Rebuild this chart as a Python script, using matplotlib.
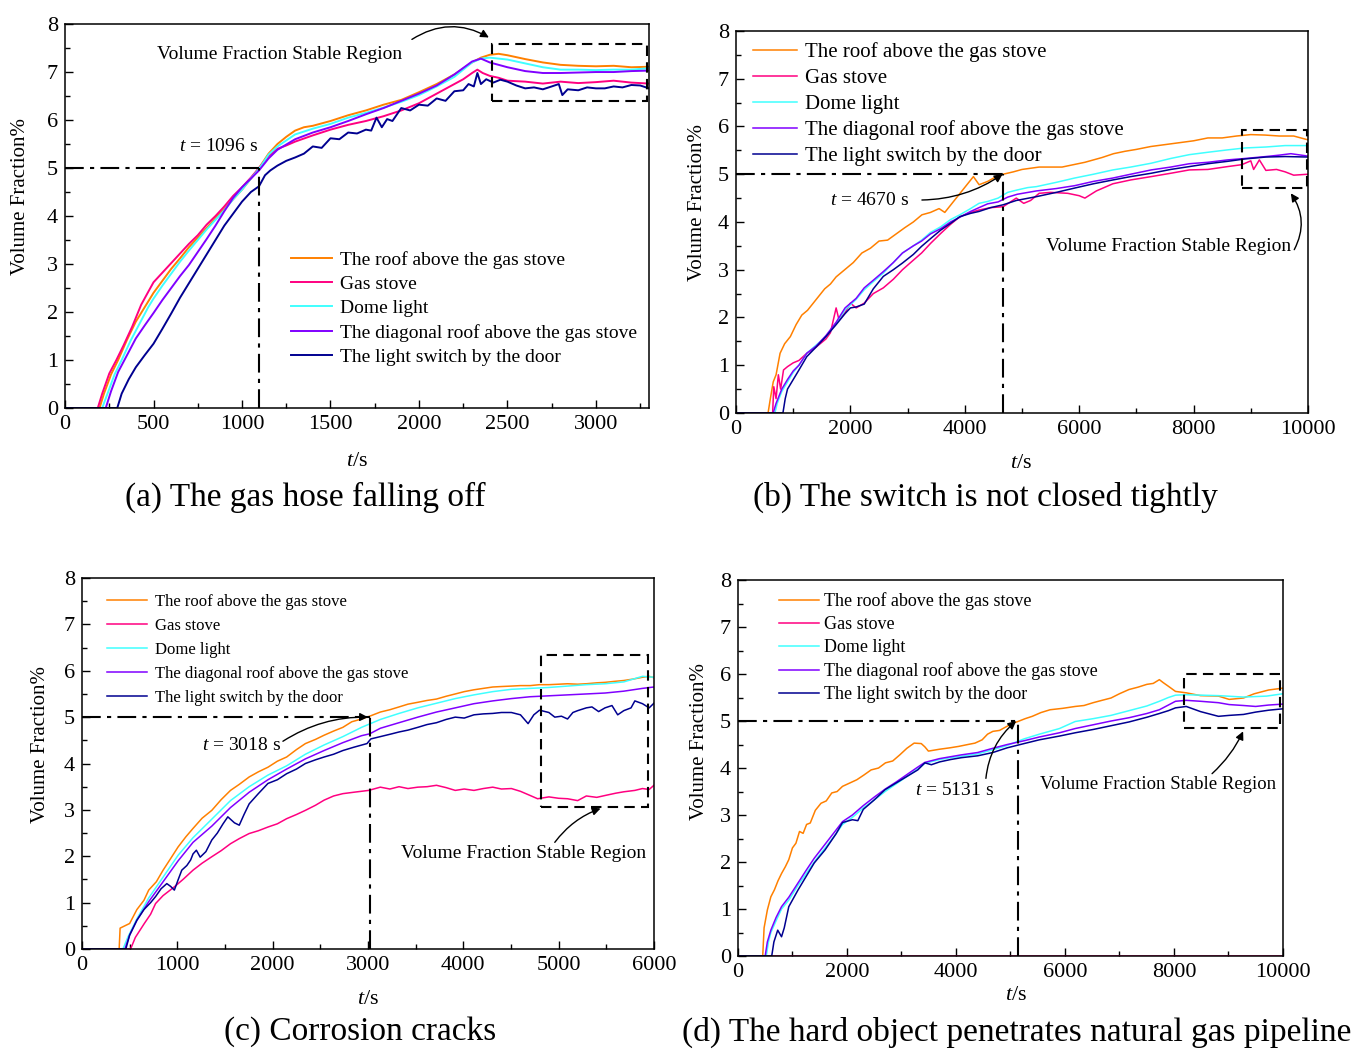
import matplotlib
matplotlib.use("Agg")
import matplotlib.pyplot as plt
from matplotlib.patches import Rectangle
from matplotlib.ticker import MultipleLocator

plt.rcParams["font.family"] = "Liberation Serif"
plt.rcParams["mathtext.fontset"] = "custom"
plt.rcParams["mathtext.rm"] = "Liberation Serif"
plt.rcParams["mathtext.it"] = "Liberation Serif:italic"

# ------------------------------------------------------------------------------
# Series names and colours
labels = ["The roof above the gas stove", "Gas stove", "Dome light",
          "The diagonal roof above the gas stove", "The light switch by the door"]
colors = ["#FF8000", "#FF0080", "#40FFFF", "#8000FF", "#000090"]

# ------------------------------------------------------------------------------
# (a) The gas hose falling off
a_roof_t = [0, 195, 220, 260, 300, 350, 400, 450, 500, 550, 600, 650, 700, 750, 800, 850, 900, 950, 1000,
            1050, 1096, 1150, 1200, 1250, 1300, 1350, 1400, 1500, 1600, 1700, 1800, 1900, 2000, 2100, 2200,
            2300, 2350, 2400, 2450, 2500, 2600, 2700, 2800, 2900, 3000, 3100, 3200, 3300]
a_roof_v = [0, 0, 0.3, 0.7, 1.0, 1.42, 1.8, 2.1, 2.4, 2.65, 2.9, 3.12, 3.35, 3.55, 3.75, 3.95, 4.15, 4.35, 4.55,
            4.78, 5.0, 5.3, 5.5, 5.65, 5.78, 5.85, 5.88, 5.98, 6.1, 6.2, 6.32, 6.42, 6.58, 6.75, 6.95,
            7.2, 7.3, 7.36, 7.38, 7.35, 7.27, 7.2, 7.15, 7.13, 7.12, 7.13, 7.1, 7.11]
a_stove_t = [0, 185, 210, 250, 290, 330, 380, 430, 470, 500, 550, 600, 650, 700, 750, 800, 850, 900, 950, 1000,
             1050, 1096, 1150, 1200, 1250, 1300, 1400, 1500, 1600, 1700, 1800, 1900, 2000, 2100, 2200, 2250,
             2300, 2330, 2360, 2400, 2450, 2500, 2600, 2700, 2800, 2900, 3000, 3100, 3200, 3300]
a_stove_v = [0, 0, 0.3, 0.72, 1.0, 1.3, 1.7, 2.15, 2.42, 2.62, 2.82, 3.02, 3.22, 3.42, 3.6, 3.82, 4.0, 4.2, 4.42, 4.6,
             4.8, 5.0, 5.25, 5.4, 5.47, 5.55, 5.68, 5.8, 5.9, 5.98, 6.08, 6.2, 6.35, 6.55, 6.75, 6.85,
             6.98, 7.05, 6.98, 6.92, 6.88, 6.82, 6.8, 6.76, 6.8, 6.77, 6.79, 6.82, 6.78, 6.76]
a_dome_t = [0, 210, 240, 280, 320, 370, 420, 470, 500, 550, 600, 650, 700, 750, 800, 850, 900, 950, 1000, 1050,
            1096, 1150, 1200, 1300, 1400, 1500, 1600, 1700, 1800, 1900, 2000, 2100, 2200, 2300, 2350, 2400,
            2500, 2600, 2700, 2800, 2900, 3000, 3100, 3200, 3300]
a_dome_v = [0, 0, 0.3, 0.7, 1.0, 1.4, 1.75, 2.1, 2.28, 2.55, 2.8, 3.05, 3.28, 3.5, 3.72, 3.92, 4.12, 4.35, 4.55, 4.78,
            4.98, 5.28, 5.45, 5.7, 5.82, 5.92, 6.05, 6.15, 6.26, 6.38, 6.52, 6.7, 6.9, 7.2, 7.28, 7.3,
            7.26, 7.18, 7.1, 7.05, 7.05, 7.04, 7.05, 7.05, 7.08]
a_diag_t = [0, 230, 260, 300, 350, 400, 450, 500, 550, 600, 650, 700, 750, 800, 850, 900, 950, 1000, 1050, 1096,
            1150, 1200, 1300, 1400, 1500, 1600, 1700, 1800, 1900, 2000, 2100, 2200, 2300, 2350, 2400, 2500,
            2600, 2700, 2800, 2900, 3000, 3100, 3200, 3300]
a_diag_v = [0, 0, 0.35, 0.75, 1.1, 1.45, 1.72, 1.98, 2.25, 2.5, 2.75, 2.98, 3.25, 3.52, 3.8, 4.1, 4.38, 4.6, 4.78, 4.95,
            5.2, 5.38, 5.6, 5.74, 5.85, 5.98, 6.12, 6.25, 6.4, 6.55, 6.72, 6.95, 7.22, 7.28, 7.2, 7.1,
            7.02, 6.98, 6.98, 6.99, 7.0, 7.0, 7.02, 7.03]
a_switch_t = [0, 295, 320, 360, 400, 450, 500, 550, 600, 650, 700, 750, 800, 850, 900, 950, 1000, 1050, 1096,
              1130, 1160, 1200, 1250, 1300, 1350, 1400, 1450, 1500, 1550, 1600, 1650, 1700, 1730, 1760, 1790,
              1820, 1850, 1900, 1950, 2000, 2050, 2100, 2150, 2200, 2250, 2280, 2310, 2330, 2350, 2380, 2420,
              2460, 2500, 2550, 2600, 2650, 2700, 2750, 2790, 2810, 2840, 2900, 2950, 3000, 3050, 3100, 3150,
              3200, 3250, 3300]
a_switch_v = [0, 0, 0.3, 0.6, 0.85, 1.1, 1.34, 1.65, 1.97, 2.3, 2.6, 2.9, 3.2, 3.5, 3.8, 4.05, 4.3, 4.5, 4.62,
              4.85, 4.95, 5.05, 5.15, 5.22, 5.3, 5.45, 5.42, 5.62, 5.6, 5.74, 5.72, 5.8, 5.78, 6.05, 5.85,
              6.02, 5.98, 6.25, 6.2, 6.32, 6.3, 6.45, 6.4, 6.6, 6.62, 6.75, 6.7, 6.98, 6.75, 6.85, 6.78,
              6.84, 6.8, 6.72, 6.66, 6.68, 6.64, 6.7, 6.75, 6.52, 6.64, 6.62, 6.68, 6.66, 6.66, 6.7, 6.68,
              6.73, 6.72, 6.66]

# ------------------------------------------------------------------------------
# (b) The switch is not closed tightly
b_roof_t = [0, 560, 600, 650, 700, 770, 850, 950, 1050, 1150, 1250, 1350, 1450, 1550, 1650, 1750, 1900, 2050,
            2200, 2350, 2500, 2650, 2800, 2950, 3100, 3250, 3400, 3550, 3650, 4150, 4250, 4400, 4550, 4670,
            4850, 5000, 5300, 5700, 5900, 6100, 6250, 6400, 6600, 6800, 7000, 7250, 7500, 7750, 8000, 8250,
            8500, 8750, 9000, 9250, 9500, 9750, 10000]
b_roof_v = [0, 0, 0.3, 0.65, 0.8, 1.25, 1.45, 1.6, 1.85, 2.05, 2.15, 2.3, 2.45, 2.6, 2.7, 2.85, 3.0, 3.15,
            3.35, 3.45, 3.6, 3.62, 3.75, 3.88, 4.0, 4.15, 4.2, 4.28, 4.2, 4.95, 4.78, 4.85, 4.95, 5.0,
            5.05, 5.1, 5.15, 5.15, 5.2, 5.25, 5.3, 5.35, 5.43, 5.48, 5.52, 5.58, 5.62, 5.66, 5.7, 5.76,
            5.76, 5.8, 5.83, 5.82, 5.8, 5.8, 5.72]
b_stove_t = [0, 640, 660, 700, 740, 780, 830, 900, 1000, 1100, 1237, 1400, 1572, 1650, 1750, 1800, 1906, 2000,
             2100, 2241, 2400, 2575, 2750, 2910, 3100, 3244, 3400, 3579, 3750, 3913, 4100, 4248, 4450, 4670,
             4900, 5030, 5150, 5300, 5500, 5800, 6000, 6100, 6300, 6589, 6900, 7258, 7600, 7926, 8250, 8595,
             8843, 9000, 9050, 9150, 9264, 9450, 9600, 9750, 10000]
b_stove_v = [0, 0, 0.55, 0.3, 0.8, 0.5, 0.9, 0.97, 1.05, 1.1, 1.25, 1.38, 1.55, 1.68, 2.2, 1.95, 2.1, 2.3,
             2.2, 2.3, 2.5, 2.62, 2.8, 3.0, 3.2, 3.35, 3.55, 3.76, 3.95, 4.11, 4.2, 4.25, 4.3, 4.32,
             4.5, 4.39, 4.45, 4.6, 4.62, 4.6, 4.55, 4.5, 4.65, 4.8, 4.88, 4.95, 5.02, 5.09, 5.1, 5.16,
             5.2, 5.28, 5.1, 5.3, 5.08, 5.1, 5.05, 4.98, 5.0]
b_dome_t = [0, 680, 720, 800, 900, 1000, 1100, 1237, 1400, 1572, 1750, 1906, 2100, 2241, 2400, 2575, 2750, 2910,
            3100, 3244, 3400, 3579, 3750, 3913, 4100, 4248, 4400, 4582, 4750, 4916, 5100, 5251, 5600, 5920,
            6250, 6589, 6900, 7258, 7600, 7926, 8250, 8595, 8900, 9264, 9600, 10000]
b_dome_v = [0, 0, 0.2, 0.45, 0.65, 0.85, 1.0, 1.25, 1.42, 1.6, 1.88, 2.16, 2.38, 2.58, 2.75, 2.93, 3.15, 3.35,
            3.5, 3.62, 3.78, 3.9, 4.05, 4.15, 4.28, 4.39, 4.43, 4.5, 4.62, 4.67, 4.72, 4.74, 4.83, 4.92,
            5.0, 5.09, 5.15, 5.23, 5.33, 5.41, 5.46, 5.51, 5.55, 5.57, 5.6, 5.6]
b_diag_t = [0, 650, 700, 800, 900, 1000, 1100, 1237, 1400, 1572, 1750, 1906, 2100, 2241, 2400, 2575, 2750, 2910,
            3100, 3244, 3400, 3579, 3750, 3913, 4100, 4248, 4400, 4582, 4750, 4916, 5251, 5600, 5920, 6250,
            6589, 6900, 7258, 7600, 7926, 8250, 8595, 8900, 9264, 9500, 9700, 10000]
b_diag_v = [0, 0, 0.2, 0.5, 0.7, 0.88, 1.0, 1.25, 1.4, 1.62, 1.9, 2.2, 2.4, 2.62, 2.78, 2.96, 3.15, 3.35,
            3.5, 3.6, 3.75, 3.86, 4.0, 4.1, 4.22, 4.3, 4.38, 4.42, 4.52, 4.58, 4.65, 4.7, 4.76, 4.85,
            4.92, 5.0, 5.09, 5.15, 5.22, 5.25, 5.3, 5.33, 5.37, 5.4, 5.43, 5.38]
b_switch_t = [0, 820, 860, 900, 1000, 1100, 1237, 1400, 1572, 1750, 1906, 2000, 2100, 2241, 2400, 2575, 2750,
              2910, 3100, 3244, 3400, 3579, 3750, 3913, 4100, 4248, 4450, 4670, 4900, 5251, 5600, 5920, 6250,
              6589, 6900, 7258, 7600, 7926, 8250, 8595, 8900, 9264, 9600, 10000]
b_switch_v = [0, 0, 0.3, 0.5, 0.7, 0.9, 1.18, 1.38, 1.6, 1.85, 2.08, 2.2, 2.22, 2.28, 2.6, 2.86, 3.0,
              3.14, 3.32, 3.49, 3.65, 3.83, 3.97, 4.11, 4.18, 4.22, 4.3, 4.36, 4.45, 4.53, 4.62, 4.71, 4.8,
              4.88, 4.95, 5.02, 5.1, 5.16, 5.22, 5.27, 5.32, 5.36, 5.37, 5.36]

# ------------------------------------------------------------------------------
# (c) Corrosion cracks
c_roof_t = [0, 390, 400, 450, 500, 576, 650, 700, 780, 851, 930, 1008, 1090, 1165, 1260, 1362, 1460, 1558, 1650,
            1754, 1850, 1951, 2050, 2147, 2250, 2344, 2450, 2540, 2640, 2737, 2830, 2933, 3018, 3130, 3230,
            3326, 3420, 3523, 3620, 3719, 3820, 3916, 4010, 4112, 4210, 4309, 4400, 4505, 4600, 4702, 4800,
            4898, 5000, 5094, 5200, 5291, 5400, 5487, 5580, 5684, 5780, 5880, 5950, 6000]
c_roof_v = [0, 0, 0.45, 0.5, 0.55, 0.85, 1.05, 1.27, 1.45, 1.7, 1.95, 2.2, 2.42, 2.6, 2.82, 2.99, 3.22, 3.42, 3.55,
            3.71, 3.82, 3.92, 4.05, 4.14, 4.3, 4.43, 4.52, 4.61, 4.7, 4.78, 4.9, 4.96, 5.02, 5.11, 5.16,
            5.22, 5.28, 5.32, 5.36, 5.39, 5.45, 5.5, 5.55, 5.59, 5.62, 5.65, 5.66, 5.67, 5.68, 5.68, 5.7,
            5.7, 5.71, 5.72, 5.71, 5.72, 5.74, 5.75, 5.77, 5.79, 5.82, 5.86, 5.88, 5.85]
c_stove_t = [0, 510, 560, 654, 720, 772, 850, 969, 1060, 1165, 1260, 1362, 1460, 1558, 1650, 1754, 1850, 1951,
             2050, 2147, 2250, 2344, 2450, 2540, 2640, 2737, 2850, 3008, 3130, 3230, 3326, 3420, 3523, 3620,
             3719, 3820, 3916, 4010, 4112, 4210, 4309, 4400, 4505, 4600, 4702, 4780, 4898, 5000, 5094, 5200,
             5291, 5400, 5487, 5600, 5684, 5800, 5880, 5950, 6000]
c_stove_v = [0, 0, 0.25, 0.55, 0.75, 0.98, 1.15, 1.34, 1.5, 1.7, 1.85, 1.99, 2.12, 2.27, 2.38, 2.49, 2.55, 2.63,
             2.7, 2.81, 2.9, 2.99, 3.1, 3.21, 3.3, 3.35, 3.38, 3.42, 3.49, 3.45, 3.5, 3.46, 3.49, 3.5,
             3.53, 3.48, 3.42, 3.45, 3.42, 3.46, 3.49, 3.45, 3.46, 3.4, 3.31, 3.24, 3.28, 3.25, 3.24, 3.2,
             3.3, 3.27, 3.31, 3.36, 3.39, 3.42, 3.46, 3.44, 3.53]
c_dome_t = [0, 430, 480, 576, 700, 851, 1008, 1165, 1362, 1558, 1754, 1951, 2147, 2344, 2540, 2737, 2933, 3130,
            3326, 3523, 3719, 3916, 4112, 4309, 4505, 4702, 4898, 5094, 5291, 5487, 5684, 5880, 6000]
c_dome_v = [0, 0, 0.25, 0.65, 1.1, 1.55, 2.02, 2.4, 2.8, 3.2, 3.5, 3.75, 3.95, 4.2, 4.4, 4.58, 4.78, 4.95,
            5.08, 5.2, 5.3, 5.4, 5.48, 5.55, 5.6, 5.62, 5.64, 5.67, 5.7, 5.72, 5.76, 5.88, 5.86]
c_diag_t = [0, 450, 500, 576, 700, 851, 1008, 1165, 1362, 1558, 1754, 1951, 2147, 2344, 2540, 2737, 2933, 3018,
            3130, 3326, 3523, 3719, 3916, 4112, 4309, 4505, 4702, 4898, 5094, 5291, 5487, 5684, 5880, 6000]
c_diag_v = [0, 0, 0.3, 0.62, 1.02, 1.45, 1.9, 2.3, 2.65, 3.05, 3.38, 3.65, 3.88, 4.1, 4.28, 4.45, 4.6, 4.64,
            4.76, 4.88, 5.0, 5.11, 5.2, 5.29, 5.35, 5.4, 5.44, 5.46, 5.48, 5.5, 5.52, 5.56, 5.62, 5.65]
c_switch_t = [0, 460, 500, 576, 650, 720, 772, 830, 890, 930, 969, 1010, 1047, 1100, 1140, 1165, 1200, 1240,
              1300, 1362, 1420, 1480, 1530, 1600, 1650, 1700, 1754, 1850, 1951, 2050, 2147, 2250, 2344, 2450,
              2540, 2640, 2737, 2850, 2990, 3030, 3130, 3250, 3326, 3420, 3523, 3620, 3719, 3820, 3916, 4010,
              4112, 4210, 4309, 4400, 4505, 4600, 4680, 4740, 4800, 4898, 4960, 5030, 5094, 5150, 5200, 5291,
              5350, 5420, 5487, 5560, 5620, 5684, 5760, 5800, 5880, 5950, 6000]
c_switch_v = [0, 0, 0.3, 0.62, 0.85, 1.0, 1.13, 1.3, 1.41, 1.35, 1.27, 1.5, 1.7, 1.8, 1.92, 2.05, 2.13, 1.98,
              2.1, 2.35, 2.5, 2.7, 2.85, 2.72, 2.67, 2.9, 3.13, 3.35, 3.57, 3.65, 3.78, 3.88, 4.0, 4.08,
              4.14, 4.2, 4.28, 4.35, 4.43, 4.53, 4.58, 4.64, 4.68, 4.72, 4.78, 4.84, 4.88, 4.95, 5.0, 4.98,
              5.05, 5.07, 5.08, 5.1, 5.1, 5.05, 4.86, 5.05, 5.15, 5.1, 5.0, 5.02, 4.96, 5.1, 5.14, 5.2,
              5.22, 5.12, 5.2, 5.25, 5.05, 5.14, 5.2, 5.35, 5.29, 5.2, 5.3]

# ------------------------------------------------------------------------------
# (d) The hard object penetrates natural gas pipeline
d_roof_t = [0, 455, 480, 540, 604, 670, 735, 802, 870, 933, 1000, 1064, 1130, 1196, 1260, 1327, 1420, 1524, 1620,
            1722, 1820, 1919, 2050, 2181, 2310, 2444, 2580, 2707, 2840, 2970, 3100, 3233, 3364, 3430, 3495,
            3700, 3890, 4050, 4218, 4350, 4481, 4580, 4678, 4800, 4941, 5040, 5138, 5270, 5401, 5560, 5729,
            5960, 6189, 6350, 6518, 6680, 6846, 7000, 7175, 7340, 7503, 7620, 7733, 7800, 7898, 8029, 8226,
            8489, 8817, 9014, 9277, 9474, 9737, 10000]
d_roof_v = [0, 0, 0.6, 0.98, 1.26, 1.41, 1.6, 1.76, 1.9, 2.05, 2.3, 2.4, 2.65, 2.61, 2.8, 2.83, 3.1, 3.25, 3.3,
            3.47, 3.5, 3.61, 3.68, 3.75, 3.85, 3.96, 4.0, 4.11, 4.15, 4.28, 4.42, 4.53, 4.52, 4.45, 4.36,
            4.4, 4.43, 4.46, 4.5, 4.53, 4.6, 4.72, 4.78, 4.8, 4.89, 4.95, 4.99, 5.05, 5.1, 5.18, 5.24,
            5.27, 5.31, 5.33, 5.39, 5.44, 5.49, 5.58, 5.67, 5.72, 5.78, 5.8, 5.88, 5.82, 5.74, 5.63, 5.6,
            5.54, 5.53, 5.46, 5.49, 5.58, 5.66, 5.7]
d_stove_t = [0, 10000]
d_stove_v = [0, 0]
d_dome_t = [0, 520, 560, 604, 700, 800, 933, 1100, 1250, 1400, 1600, 1800, 1919, 2100, 2300, 2500, 2700, 2900,
            3100, 3300, 3430, 3700, 3900, 4100, 4400, 4678, 4941, 5250, 5530, 5900, 6189, 6518, 6846, 7175,
            7503, 7733, 7898, 8029, 8226, 8489, 8817, 9277, 9700, 10000]
d_dome_v = [0, 0, 0.3, 0.5, 0.75, 1.0, 1.19, 1.5, 1.75, 2.0, 2.3, 2.6, 2.8, 2.95, 3.15, 3.32, 3.5, 3.66,
            3.82, 3.98, 4.1, 4.18, 4.22, 4.25, 4.3, 4.39, 4.48, 4.62, 4.72, 4.84, 4.99, 5.05, 5.12, 5.22,
            5.32, 5.42, 5.5, 5.55, 5.56, 5.55, 5.54, 5.51, 5.53, 5.58]
d_diag_t = [0, 500, 540, 604, 700, 800, 933, 1100, 1250, 1400, 1600, 1800, 1919, 2100, 2300, 2500, 2700, 2900,
            3100, 3300, 3430, 3700, 3900, 4100, 4400, 4678, 4941, 5250, 5530, 5900, 6189, 6518, 6846, 7175,
            7503, 7733, 7898, 8029, 8226, 8489, 8817, 9014, 9277, 9500, 9737, 10000]
d_diag_v = [0, 0, 0.3, 0.55, 0.82, 1.05, 1.25, 1.55, 1.82, 2.08, 2.38, 2.68, 2.86, 3.0, 3.2, 3.38, 3.55, 3.7,
            3.86, 4.02, 4.12, 4.2, 4.24, 4.28, 4.33, 4.42, 4.5, 4.58, 4.66, 4.75, 4.84, 4.92, 5.0, 5.07,
            5.16, 5.24, 5.34, 5.42, 5.44, 5.42, 5.39, 5.35, 5.33, 5.31, 5.34, 5.36]
d_switch_t = [0, 620, 660, 730, 800, 850, 933, 1100, 1250, 1400, 1600, 1800, 1919, 2100, 2200, 2300, 2500, 2700,
              2900, 3100, 3300, 3430, 3550, 3700, 3900, 4100, 4400, 4678, 4941, 5250, 5530, 5900, 6189, 6518,
              6846, 7175, 7503, 7733, 7898, 8029, 8226, 8489, 8817, 9014, 9277, 9500, 9737, 10000]
d_switch_v = [0, 0, 0.3, 0.55, 0.41, 0.6, 1.05, 1.4, 1.69, 1.98, 2.26, 2.6, 2.84, 2.9, 2.88, 3.12, 3.32, 3.54,
              3.68, 3.82, 3.96, 4.11, 4.07, 4.13, 4.18, 4.22, 4.26, 4.33, 4.43, 4.52, 4.6, 4.68, 4.75, 4.82,
              4.9, 4.98, 5.08, 5.16, 5.22, 5.28, 5.31, 5.2, 5.1, 5.12, 5.14, 5.19, 5.23, 5.26]

# Time at which each case reaches 5 %
t_cross = [1096, 4670, 3018, 5131]


def setup_axes(ax, xmax, xmajor, xminor):
    ax.set_xlim(0, xmax)
    ax.set_ylim(0, 8)
    ax.xaxis.set_major_locator(MultipleLocator(xmajor))
    ax.xaxis.set_minor_locator(MultipleLocator(xminor))
    ax.yaxis.set_major_locator(MultipleLocator(1))
    ax.yaxis.set_minor_locator(MultipleLocator(0.5))
    ax.tick_params(which="both", direction="in", top=False, right=False, labelsize=16, width=1.0)
    ax.tick_params(which="major", length=6, pad=5)
    ax.tick_params(which="minor", length=3.5)
    for sp in ax.spines.values():
        sp.set_linewidth(1.1)


def draw_series(ax, series, lw):
    for (t, v), lab, col in zip(series, labels, colors):
        ax.plot(t, v, color=col, lw=lw, label=lab)


def draw_guides(ax, tc):
    ax.plot([0, tc], [5, 5], color="black", lw=1.5, ls=(0, (9, 3, 2, 3)))
    ax.plot([tc, tc], [0, 5], color="black", lw=1.5, ls=(0, (9, 3, 2, 3)))


def stable_box(ax, x0, x1, y0, y1):
    ax.add_patch(Rectangle((x0, y0), x1 - x0, y1 - y0, fill=False, ec="black",
                           lw=1.5, ls=(0, (5, 3)), zorder=5))


def arrow(ax, start, end, rad):
    ax.annotate("", xy=end, xytext=start,
                arrowprops=dict(arrowstyle="-|>", color="black", lw=1.0, mutation_scale=12,
                                shrinkA=0, shrinkB=0, connectionstyle="arc3,rad=%s" % rad))


def axis_labels(ax, xl, yl):
    ax.text(xl[0], xl[1], "$t$/s", transform=ax.transAxes, ha="center", va="center", fontsize=16)
    ax.text(yl[0], yl[1], "Volume Fraction%", transform=ax.transAxes, ha="center", va="center",
            rotation=90, fontsize=15)


fig = plt.figure(figsize=(13.55, 10.5), dpi=100)
ax_a = fig.add_axes([0.048, 0.6114, 0.431, 0.3657])
ax_b = fig.add_axes([0.5432, 0.6067, 0.4221, 0.3638])
ax_c = fig.add_axes([0.0605, 0.0962, 0.4221, 0.3533])
ax_d = fig.add_axes([0.5446, 0.0895, 0.4022, 0.3581])

# (a)
setup_axes(ax_a, 3300, 500, 250)
draw_series(ax_a, [(a_roof_t, a_roof_v), (a_stove_t, a_stove_v), (a_dome_t, a_dome_v),
                   (a_diag_t, a_diag_v), (a_switch_t, a_switch_v)], 1.4)
draw_guides(ax_a, t_cross[0])
stable_box(ax_a, 2410, 3290, 6.4, 7.58)
ax_a.text(1210, 7.37, "Volume Fraction Stable Region", ha="center", va="center", fontsize=14)
arrow(ax_a, (1960, 7.68), (2395, 7.72), -0.3)
ax_a.text(870, 5.44, "$t$ = %d s" % t_cross[0], ha="center", va="center", fontsize=14)
ax_a.legend(loc="upper left", bbox_to_anchor=(0.387, 0.408), frameon=False, fontsize=14,
            handlelength=2.1, handletextpad=0.4, labelspacing=0.33, borderpad=0, borderaxespad=0)
axis_labels(ax_a, (0.5, -0.14), (-0.077, 0.55))

# (b)
setup_axes(ax_b, 10000, 2000, 1000)
draw_series(ax_b, [(b_roof_t, b_roof_v), (b_stove_t, b_stove_v), (b_dome_t, b_dome_v),
                   (b_diag_t, b_diag_v), (b_switch_t, b_switch_v)], 1.1)
draw_guides(ax_b, t_cross[1])
stable_box(ax_b, 8843, 9987, 4.72, 5.93)
ax_b.text(7560, 3.49, "Volume Fraction Stable Region", ha="center", va="center", fontsize=14)
arrow(ax_b, (9760, 3.42), (9700, 4.6), 0.3)
ax_b.text(2340, 4.46, "$t$ = %d s" % t_cross[1], ha="center", va="center", fontsize=14)
arrow(ax_b, (3250, 4.46), (4660, 5.0), 0.15)
ax_b.legend(loc="upper left", bbox_to_anchor=(0.03, 0.97), frameon=False, fontsize=15,
            handlelength=2.1, handletextpad=0.4, labelspacing=0.3, borderpad=0, borderaxespad=0)
axis_labels(ax_b, (0.498, -0.131), (-0.068, 0.55))

# (c)
setup_axes(ax_c, 6000, 1000, 500)
draw_series(ax_c, [(c_roof_t, c_roof_v), (c_stove_t, c_stove_v), (c_dome_t, c_dome_v),
                   (c_diag_t, c_diag_v), (c_switch_t, c_switch_v)], 1.1)
draw_guides(ax_c, t_cross[2])
stable_box(ax_c, 4820, 5940, 3.06, 6.33)
ax_c.text(4630, 2.06, "Volume Fraction Stable Region", ha="center", va="center", fontsize=14)
arrow(ax_c, (4960, 2.3), (5440, 3.03), -0.15)
ax_c.text(1676, 4.39, "$t$ = %d s" % t_cross[2], ha="center", va="center", fontsize=14)
arrow(ax_c, (2108, 4.48), (3000, 5.0), -0.15)
ax_c.legend(loc="upper left", bbox_to_anchor=(0.044, 0.958), frameon=False, fontsize=12,
            handlelength=2.4, handletextpad=0.5, labelspacing=0.48, borderpad=0, borderaxespad=0)
axis_labels(ax_c, (0.5, -0.137), (-0.073, 0.55))

# (d)
setup_axes(ax_d, 10000, 2000, 1000)
draw_series(ax_d, [(d_roof_t, d_roof_v), (d_stove_t, d_stove_v), (d_dome_t, d_dome_v),
                   (d_diag_t, d_diag_v), (d_switch_t, d_switch_v)], 1.1)
draw_guides(ax_d, t_cross[3])
stable_box(ax_d, 8193, 9947, 4.85, 6.01)
ax_d.text(7706, 3.66, "Volume Fraction Stable Region", ha="center", va="center", fontsize=13.5)
arrow(ax_d, (8700, 3.88), (9270, 4.78), 0.1)
ax_d.text(3982, 3.53, "$t$ = %d s" % t_cross[3], ha="center", va="center", fontsize=14)
arrow(ax_d, (4550, 3.78), (5105, 5.0), -0.2)
ax_d.legend(loc="upper left", bbox_to_anchor=(0.075, 0.968), frameon=False, fontsize=13,
            handlelength=2.2, handletextpad=0.3, labelspacing=0.34, borderpad=0, borderaxespad=0)
axis_labels(ax_d, (0.51, -0.106), (-0.07, 0.57))

# Panel captions
fig.text(0.225, 0.5267, "(a) The gas hose falling off", ha="center", va="center", fontsize=24)
fig.text(0.727, 0.5267, "(b) The switch is not closed tightly", ha="center", va="center", fontsize=24)
fig.text(0.2657, 0.0171, "(c) Corrosion cracks", ha="center", va="center", fontsize=24)
fig.text(0.7506, 0.0171, "(d) The hard object penetrates natural gas pipeline", ha="center", va="center",
         fontsize=24)

fig.savefig("out.png", dpi=100)
